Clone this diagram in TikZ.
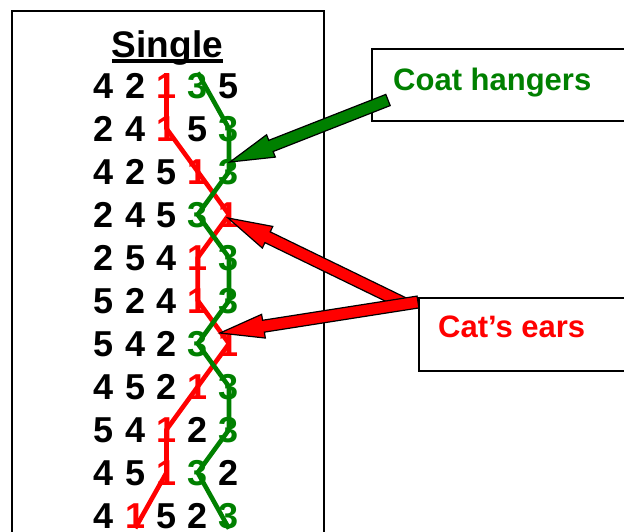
\documentclass[tikz,border=0pt]{standalone}
\usepackage{fontspec}
\setmainfont{Liberation Sans}
\usepackage{tikz}
\usetikzlibrary{calc}
\definecolor{hanger}{RGB}{0,128,0}
\tikzstyle{digit}=[inner sep=0pt, anchor=base, font=\fontsize{36}{40}\selectfont\bfseries]
\tikzstyle{dig1}=[digit, text=red]
\tikzstyle{dig2}=[digit]
\tikzstyle{dig3}=[digit, text=hanger]
\tikzstyle{dig4}=[digit]
\tikzstyle{dig5}=[digit]
\tikzstyle{track1}=[draw=red, line width=4.6pt, line join=round]
\tikzstyle{track3}=[draw=hanger, line width=4.6pt, line join=round]
\tikzstyle{callout}=[draw, line width=1.6pt, anchor=north west, minimum width=280pt, minimum height=72pt, inner sep=0pt]
\tikzstyle{calltext}=[inner sep=0pt, anchor=base west, font=\fontsize{31}{36}\selectfont\bfseries]
\newcommand{\blockarrow}[3]{%
  \coordinate (#1-hd) at ($(#2)!44pt!(#1)$);
  \filldraw[fill=#3, draw=black, line width=1.2pt]
    ($(#1)!6pt!90:(#2)$) -- ($(#1-hd)!6pt!90:(#2)$) -- ($(#1-hd)!12pt!90:(#2)$) -- (#2)
    -- ($(#1-hd)!12pt!-90:(#2)$) -- ($(#1-hd)!6pt!-90:(#2)$) -- ($(#1)!6pt!-90:(#2)$) -- cycle;
}

\begin{document}
\begin{tikzpicture}[x=1pt,y=-1pt]
\useasboundingbox (0,0) rectangle (624,531);
\clip (0,0) rectangle (624,531);
%Panel
\node[draw, line width=2pt, anchor=north west, minimum width=312pt, minimum height=560pt, inner sep=0pt] (panel) at (11,10){};
\node[font=\fontsize{37}{40}\selectfont\bfseries, inner sep=0pt, anchor=base] (title) at (167.5,57){Single};
\draw[line width=3.5pt] ([yshift=-4pt]title.base west) -- ([yshift=-4pt]title.base east);
%Rows
\foreach \row [count=\r] in {{4,2,1,3,5},{2,4,1,5,3},{4,2,5,1,3},{2,4,5,3,1},{2,5,4,1,3},{5,2,4,1,3},{5,4,2,3,1},{4,5,2,1,3},{5,4,1,2,3},{4,5,1,3,2},{4,1,5,2,3}}
  \foreach \d [count=\c] in \row
    \node[dig\d] (p\d-\r) at ({104+31.25*(\c-1)},{98+43*(\r-1)}){\d};
%Tracks
\draw[track1] (p1-1.north) \foreach \r in {2,...,10}{-- (p1-\r.center)} -- (p1-11.south);
\draw[track3] (p3-1.north) \foreach \r in {2,...,10}{-- (p3-\r.center)} -- (p3-11.south);
%Callouts
\node[callout] (coat) at (371,48){};
\node[calltext, text=hanger] (coattxt) at (393,90){Coat hangers};
\node[callout, minimum height=73pt] (cat) at (418,297){};
\node[calltext, text=red] (cattxt) at (438,337){Cat’s ears};
%Arrows
\coordinate (gtail) at (388,100);
\coordinate (gtip) at (230,162);
\coordinate (rtailA) at (405,304);
\coordinate (rtipA) at (228,218);
\coordinate (rtailB) at (418,302);
\coordinate (rtipB) at (220,333);
\blockarrow{gtail}{gtip}{hanger}
\blockarrow{rtailA}{rtipA}{red}
\blockarrow{rtailB}{rtipB}{red}
\end{tikzpicture}
\end{document}
